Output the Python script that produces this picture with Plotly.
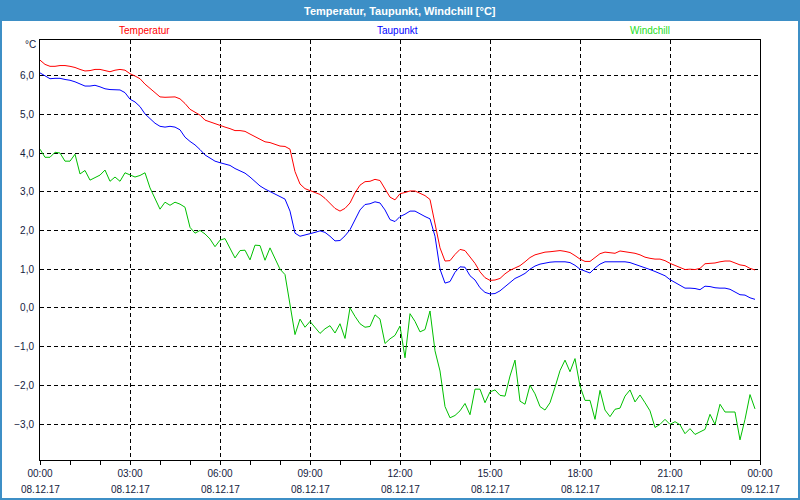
import plotly.graph_objects as go
import pandas as pd

# 10-minute readings, 08.12.17 00:00 .. 23:50
times = pd.date_range("2017-12-08 00:00", periods=144, freq="10min")

temperatur = [
    6.40, 6.29, 6.24, 6.24, 6.26, 6.26, 6.24, 6.21, 6.16, 6.12, 6.13, 6.16, 6.16, 6.12, 6.10, 6.14, 6.16, 6.14,
    6.05, 5.99, 5.92, 5.78, 5.67, 5.57, 5.45, 5.44, 5.44, 5.45, 5.40, 5.28, 5.13, 5.06, 4.98, 4.85, 4.80, 4.75,
    4.72, 4.67, 4.63, 4.58, 4.58, 4.56, 4.49, 4.42, 4.37, 4.29, 4.27, 4.22, 4.18, 4.17, 4.10, 3.52, 3.20, 3.08,
    3.03, 2.97, 2.93, 2.83, 2.71, 2.57, 2.50, 2.57, 2.71, 2.97, 3.17, 3.26, 3.27, 3.32, 3.29, 3.09, 2.86, 2.79,
    2.95, 2.98, 3.02, 3.02, 2.96, 2.90, 2.80, 2.20, 1.55, 1.21, 1.22, 1.38, 1.51, 1.48, 1.30, 1.15, 0.93, 0.78,
    0.71, 0.72, 0.76, 0.88, 0.97, 1.04, 1.09, 1.19, 1.30, 1.37, 1.41, 1.44, 1.45, 1.46, 1.48, 1.46, 1.43, 1.35,
    1.26, 1.20, 1.20, 1.30, 1.40, 1.44, 1.43, 1.41, 1.47, 1.45, 1.42, 1.41, 1.37, 1.31, 1.28, 1.26, 1.26, 1.22,
    1.15, 1.09, 1.04, 0.99, 1.00, 0.99, 1.02, 1.14, 1.15, 1.16, 1.19, 1.21, 1.21, 1.15, 1.11, 1.09, 1.02, 0.98,
]

taupunkt = [
    6.07, 5.99, 5.92, 5.93, 5.93, 5.90, 5.88, 5.84, 5.78, 5.73, 5.73, 5.75, 5.71, 5.66, 5.64, 5.64, 5.63, 5.56,
    5.39, 5.32, 5.20, 5.01, 4.89, 4.77, 4.69, 4.67, 4.69, 4.67, 4.60, 4.41, 4.30, 4.21, 4.09, 3.95, 3.87, 3.79,
    3.75, 3.71, 3.68, 3.60, 3.55, 3.48, 3.38, 3.27, 3.15, 3.07, 3.00, 2.93, 2.88, 2.81, 2.50, 1.93, 1.85, 1.88,
    1.92, 1.95, 1.99, 1.95, 1.85, 1.73, 1.74, 1.86, 2.02, 2.28, 2.53, 2.67, 2.69, 2.74, 2.71, 2.53, 2.28, 2.23,
    2.36, 2.42, 2.50, 2.50, 2.42, 2.36, 2.30, 1.85, 1.00, 0.64, 0.68, 0.92, 1.06, 1.05, 0.83, 0.72, 0.52, 0.40,
    0.36, 0.37, 0.44, 0.54, 0.66, 0.76, 0.82, 0.89, 1.00, 1.08, 1.13, 1.16, 1.18, 1.19, 1.19, 1.19, 1.17, 1.10,
    1.00, 0.94, 0.90, 1.03, 1.13, 1.19, 1.19, 1.18, 1.19, 1.19, 1.17, 1.13, 1.08, 1.04, 0.99, 0.94, 0.89, 0.83,
    0.73, 0.65, 0.57, 0.51, 0.51, 0.50, 0.47, 0.56, 0.55, 0.52, 0.51, 0.51, 0.48, 0.40, 0.34, 0.33, 0.26, 0.22,
]

windchill = [
    4.10, 3.89, 3.89, 4.02, 4.00, 3.79, 3.79, 3.97, 3.46, 3.55, 3.30, 3.36, 3.43, 3.56, 3.27, 3.38, 3.27, 3.49,
    3.44, 3.38, 3.42, 3.49, 3.10, 2.82, 2.55, 2.73, 2.65, 2.73, 2.68, 2.60, 2.08, 1.93, 2.00, 1.91, 1.78, 1.58,
    1.75, 1.79, 1.55, 1.29, 1.48, 1.49, 1.24, 1.62, 1.61, 1.23, 1.55, 1.29, 1.00, 0.86, 0.13, -0.69, -0.29, -0.50,
    -0.35, -0.52, -0.66, -0.54, -0.46, -0.65, -0.41, -0.79, 0.00, -0.22, -0.41, -0.50, -0.48, -0.18, -0.29, -0.92,
    -0.80, -0.71, -0.47, -1.29, -0.15, -0.35, -0.62, -0.56, -0.08, -1.11, -1.63, -2.55, -2.84, -2.78, -2.66, -2.47,
    -2.76, -2.10, -2.10, -2.45, -2.17, -2.12, -2.26, -2.28, -1.76, -1.35, -2.41, -2.49, -2.00, -2.22, -2.55, -2.64,
    -2.45, -2.05, -1.62, -1.35, -1.65, -1.31, -2.02, -2.39, -2.39, -2.88, -2.13, -2.64, -2.81, -2.62, -2.59, -2.28,
    -2.12, -2.43, -2.25, -2.45, -2.66, -3.09, -3.01, -2.88, -3.01, -2.94, -3.02, -3.25, -3.12, -3.27, -3.20, -3.14,
    -2.75, -3.01, -2.49, -2.69, -2.69, -2.69, -3.41, -2.88, -2.24, -2.61,
]

series_names = ["Temperatur", "Taupunkt", "Windchill"]
series_colors = ["#ff0000", "#0000ff", "#00c000"]
label_colors = ["#ff0000", "#0000ff", "#22dd22"]

tick_times = pd.date_range("2017-12-08 00:00", "2017-12-09 00:00", freq="3h")

frame_blue = "#3d8fc6"
text_col = "#14213d"
font_family = "Liberation Sans"

fig = go.Figure()
for name, vals, col in zip(series_names, [temperatur, taupunkt, windchill], series_colors):
    fig.add_trace(go.Scatter(x=times, y=vals, mode="lines", name=name,
                             line=dict(color=col, width=1), hoverinfo="skip"))

# pixel -> paper helpers (plot area 40..760 x 40..460)
W, H, L, R, T, B = 800, 500, 40, 40, 40, 40
pw, ph = W - L - R, H - T - B


def px(x):
    return (x - L) / pw


def py(y):
    return (H - B - y) / ph


shapes = [
    dict(type="rect", xref="paper", yref="paper", x0=px(0), x1=px(800), y0=py(21), y1=py(0),
         fillcolor=frame_blue, line=dict(width=0), layer="above"),
    dict(type="rect", xref="paper", yref="paper", x0=px(0), x1=px(2), y0=py(500), y1=py(0),
         fillcolor=frame_blue, line=dict(width=0), layer="above"),
    dict(type="rect", xref="paper", yref="paper", x0=px(798), x1=px(800), y0=py(500), y1=py(0),
         fillcolor=frame_blue, line=dict(width=0), layer="above"),
    dict(type="rect", xref="paper", yref="paper", x0=px(0), x1=px(800), y0=py(500), y1=py(498),
         fillcolor=frame_blue, line=dict(width=0), layer="above"),
]

annotations = [
    dict(text="<b>Temperatur, Taupunkt, Windchill [°C]</b>", xref="paper", yref="paper",
         x=px(400), y=py(11), showarrow=False, xanchor="center", yanchor="middle",
         font=dict(family=font_family, size=11, color="white")),
    dict(text="°C", xref="paper", yref="paper", x=px(38), y=py(45), showarrow=False,
         xanchor="right", yanchor="middle", font=dict(family=font_family, size=10, color=text_col)),
]
for name, col, cx in zip(series_names, label_colors, [144, 397, 650]):
    annotations.append(dict(text=name, xref="paper", yref="paper", x=px(cx), y=py(30),
                            showarrow=False, xanchor="center", yanchor="middle",
                            font=dict(family=font_family, size=10, color=col)))
for t in tick_times:
    annotations.append(dict(text=t.strftime("%d.%m.%y"), xref="x", yref="paper", x=t, y=py(489),
                            showarrow=False, xanchor="center", yanchor="middle",
                            font=dict(family=font_family, size=10, color=text_col)))

fig.update_layout(
    width=W, height=H,
    margin=dict(l=L, r=R, t=T, b=B, pad=0),
    paper_bgcolor="white",
    plot_bgcolor="white",
    showlegend=False,
    separators=",.",
    font=dict(family=font_family, size=10, color=text_col),
    shapes=shapes,
    annotations=annotations,
    xaxis=dict(
        range=[tick_times[0], tick_times[-1]],
        tickvals=list(tick_times),
        tickformat="%H:%M",
        showgrid=True, gridcolor="black", gridwidth=1, griddash="4px,3px",
        showline=True, linecolor="black", linewidth=1, mirror=True,
        ticks="outside", ticklen=4, tickcolor="black",
        minor=dict(dtick=3600000, ticks="outside", ticklen=4, tickcolor="black", showgrid=False),
        zeroline=False,
    ),
    yaxis=dict(
        range=[-3.93, 6.92],
        tick0=0, dtick=1, tickformat=".1f",
        showgrid=True, gridcolor="black", gridwidth=1, griddash="4px,3px",
        showline=True, linecolor="black", linewidth=1, mirror=True,
        ticks="", ticklabelstandoff=3,
        zeroline=False,
    ),
)

# page body has a default 8px margin; drop it so the chart fills the window
fig.write_html("out.html", config={"displayModeBar": False},
               post_script="document.body.style.margin='0';")
